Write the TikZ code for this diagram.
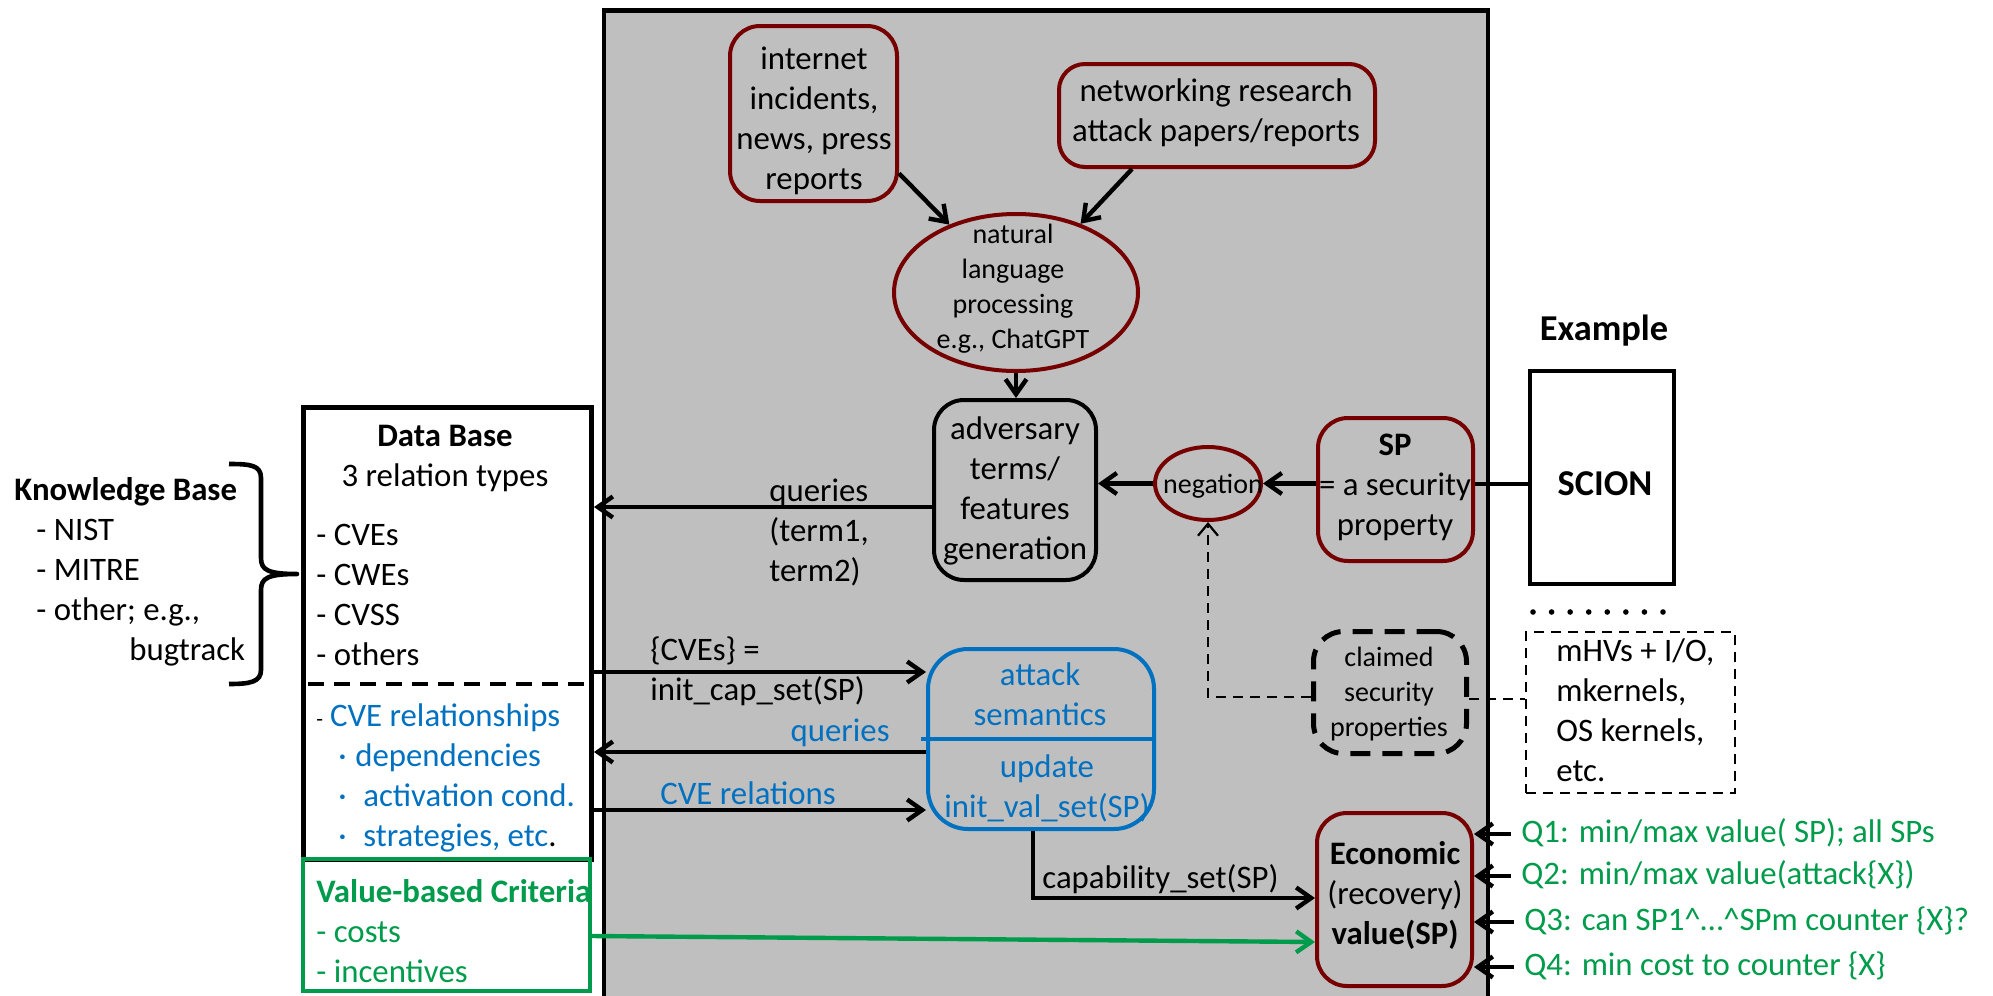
\documentclass[tikz,border=0pt]{standalone}
\usepackage{fontspec}
\setmainfont{Carlito}
\usetikzlibrary{arrows.meta,shapes.geometric,fit,calc}
\definecolor{boxred}{RGB}{118,0,0}
\definecolor{cveblue}{RGB}{0,112,192}
\definecolor{critgreen}{RGB}{0,155,75}
\definecolor{panelgray}{RGB}{191,191,191}
\tikzset{
  txt/.style={inner sep=0pt, font=\fontsize{16.4pt}{20pt}\selectfont, align=center},
  smalltxt/.style={inner sep=0pt, font=\fontsize{14pt}{17.5pt}\selectfont, align=center},
  bigtxt/.style={inner sep=0pt, font=\fontsize{18.2pt}{22pt}\selectfont\bfseries},
  frame/.style={inner sep=0pt, draw, line width=2pt},
  redbox/.style={frame, draw=boxred, rounded corners=15pt},
  blkbox/.style={frame, rounded corners=15pt},
  arr/.style={line width=2.2pt, -{Straight Barb[length=7.5pt,width=10.5pt]}},
  garr/.style={arr, draw=critgreen},
  thindash/.style={line width=1.1pt, dash pattern=on 5pt off 3.5pt},
}
\begin{document}
\begin{tikzpicture}[x=0.5pt,y=-0.5pt]
\useasboundingbox (0,0) rectangle (1993,996);

% ---------- grey processing panel ----------
\node[frame, line width=2.2pt, fill=panelgray, fit={(604,10.3) (1488,1012)}] (panel) {};

% ---------- sources and NLP ----------
\node[redbox, fit={(730,26) (897,201)}] (inet) {};
\node[txt] (inet-t) at (814,121) {\strut internet\\\strut incidents,\\\strut news, press\\\strut reports};

\node[redbox, rounded corners=13pt, fit={(1059,64) (1375,167)}] (net) {};
\node[txt] (net-t) at (1216,113) {\strut networking research\\\strut attack papers/reports};

\node[ellipse, draw=boxred, line width=2pt, inner sep=0pt,
      minimum width=122pt, minimum height=78.5pt] (nlp) at (1016,292.5) {};
\node[smalltxt] (nlp-t) at (1013,288.5) {\strut natural\\\strut language\\\strut processing\\\strut e.g., ChatGPT};

% ---------- adversary terms, negation, SP ----------
\node[blkbox, fit={(934,400) (1096,580)}] (adv) {};
\node[txt] (adv-t) at (1015,491) {\strut adversary\\\strut terms/\\\strut features\\\strut generation};

\node[ellipse, draw=boxred, line width=2pt, inner sep=0pt,
      minimum width=53pt, minimum height=36.5pt] (neg) at (1208,483.5) {};
\node[smalltxt] (neg-t) at (1213,486) {\strut negation};

\node[redbox, fit={(1318,418) (1473,561)}] (sp) {};
\node[txt] (sp-t) at (1395,487) {\strut\textbf{SP}\\\strut = a security\\\strut property};

% ---------- example column ----------
\node[bigtxt] (example) at (1604,331) {Example};
\node[frame, line width=2.2pt, fit={(1530,371) (1674,584)}] (scion) {};
\node[bigtxt] (scion-t) at (1605,484) {SCION};
\foreach \i in {0,...,7} \fill (1533+18.57*\i,612) circle[radius=1.4pt];
\node[frame, line width=1.3pt, dash pattern=on 5pt off 3.5pt, fit={(1526,632) (1735,793)}] (mhv) {};
\node[txt, anchor=west, align=left] (mhv-t) at (1556,713)
  {\strut mHVs + I/O,\\\strut mkernels,\\\strut OS kernels,\\\strut etc.};

% ---------- claimed properties ----------
\node[frame, line width=2.5pt, rounded corners=15pt, dash pattern=on 10pt off 6pt,
      fit={(1313.5,631.5) (1466.5,753.5)}] (claimed) {};
\node[smalltxt] (claimed-t) at (1389,694) {\strut claimed\\\strut security\\\strut properties};

% ---------- attack semantics ----------
\node[frame, draw=cveblue, rounded corners=20pt, fit={(928,649) (1154,829)}] (atk) {};
\draw[draw=cveblue, line width=2pt] ([xshift=-2.5pt]atk.west) -- (atk.east);
\node[txt, text=cveblue] (atk-t1) at (1040,697) {\strut attack\\\strut semantics};
\node[txt, text=cveblue] (atk-t2) at (1047,789) {\strut update\\\strut init\_val\_set(SP)};

% ---------- economic value ----------
\node[redbox, fit={(1317,813) (1472,986)}] (econ) {};
\node[txt] (econ-t) at (1395,896) {\strut\textbf{Economic}\\\strut (recovery)\\\strut\textbf{value(SP)}};

% ---------- data base and criteria ----------
\node[frame, line width=2.5pt, fit={(303,407) (591.5,859)}] (db) {};
\draw[line width=2pt, dash pattern=on 8pt off 5pt] (308,684) -- (587,684);
\node[frame, draw=critgreen, fit={(303,859) (589.5,991)}] (crit) {};

\node[txt] (db-title) at (445,458) {\strut\textbf{Data Base}\\\strut 3 relation types};
\node[txt, anchor=west, align=left] (db-list) at (316,597)
  {\strut - CVEs\\\strut - CWEs\\\strut - CVSS\\\strut - others};
\node[txt, anchor=west, align=left, text=cveblue] (db-rel) at (316,778)
  {\strut{\fontsize{11pt}{11pt}\selectfont\textcolor{black}{-}}\hspace{3.5pt}CVE relationships\\
   \strut\hspace*{11pt}\makebox[8.5pt][l]{·}dependencies\\
   \strut\hspace*{11pt}\makebox[12.5pt][l]{·}activation cond.\\
   \strut\hspace*{11pt}\makebox[12.5pt][l]{·}strategies, etc\textcolor{black}{.}};
\node[txt, anchor=west, align=left, text=critgreen] (crit-t) at (316,934)
  {\strut\textbf{Value-based Criteria}\\\strut - costs\\\strut - incentives};

% ---------- knowledge base ----------
\node[txt, anchor=west, align=left] (kb) at (14,572)
  {\strut\textbf{Knowledge Base}\\
   \strut\hspace*{11pt}- NIST\\
   \strut\hspace*{11pt}- MITRE\\
   \strut\hspace*{11pt}- other; e.g.,\\
   \strut\hspace*{57.5pt}bugtrack};
\draw[line width=2.3pt, line join=round]
  (229,464) .. controls (250,464) and (261,465) .. (261,478) -- (261,558)
  .. controls (261,570) and (268,574) .. (297,574)
  .. controls (268,574) and (261,578) .. (261,590) -- (261,670)
  .. controls (261,682) and (250,684) .. (229,684);

% ---------- connectors ----------
\draw[arr] (inet.-35) -- (nlp);
\draw[arr] ($(net.south)+(-85,0)$) -- (nlp);
\draw[arr] (nlp.south) -- (nlp.south |- adv.north);
\draw[arr] (neg.east -| sp.west) -- (neg.east);
\draw[arr] (neg.west) -- (neg.west -| adv.east);
\draw[line width=2.2pt] ($(sp.east)+(0,-5.5)$) -- ($(scion.west)+(0,6.5)$);

\coordinate (yq) at (0,507);
\draw[arr] (adv.west |- yq) -- (db.east |- yq);
\node[txt, anchor=west, align=left] (q-lbl) at (769,533) {\strut queries\\\strut (term1,\\\strut term2)};

\coordinate (ycve) at (0,672);
\draw[arr] (db.east |- ycve) -- (atk.west |- ycve);
\node[txt, anchor=west, align=left] (cve-lbl) at (650,672) {\strut\{CVEs\} =\\\strut init\_cap\_set(SP)};

\coordinate (yqb) at (0,752);
\draw[arr] (atk.west |- yqb) -- (db.east |- yqb);
\node[txt, anchor=east, text=cveblue] (qb-lbl) at (890,733) {\strut queries};

\coordinate (yrel) at (0,810);
\draw[arr] (db.east |- yrel) -- (atk.west |- yrel);
\node[txt, anchor=west, text=cveblue] (rel-lbl) at (660,796) {\strut CVE relations};

\coordinate (xcap) at (1033,0);
\coordinate (ycap) at (0,898);
\draw[arr, line join=miter] (atk.south -| xcap) |- (econ.west |- ycap);
\node[txt, anchor=west] (cap-lbl) at (1042,880) {\strut capability\_set(SP)};

\coordinate (ygs) at (0,936);
\coordinate (yge) at (0,942);
\draw[garr] (crit.east |- ygs) -- (econ.west |- yge);

\coordinate (yd1) at (0,697);
\coordinate (yd2) at (0,699);
\draw[thindash, -{Straight Barb[length=6pt,width=10pt]}] (claimed.west |- yd1) -| (neg.south);
\draw[thindash] (claimed.east |- yd2) -- (mhv.west |- yd2);

% ---------- questions ----------
\node[txt, anchor=west, text=critgreen] (q1) at (1521,834) {\strut Q1: min/max value( SP); all SPs};
\node[txt, anchor=west, text=critgreen] (q2) at (1521,876) {\strut Q2: min/max value(attack\{X\})};
\node[txt, anchor=west, text=critgreen] (q3) at (1524,922) {\strut Q3: can SP1\^{}…\^{}SPm counter \{X\}?};
\node[txt, anchor=west, text=critgreen] (q4) at (1524,967) {\strut Q4: min cost to counter \{X\}};
\foreach \q in {q1,q2,q3,q4}
  \draw[arr] ([xshift=-5pt]\q.west) -- (\q.west -| econ.east);
\end{tikzpicture}
\end{document}
